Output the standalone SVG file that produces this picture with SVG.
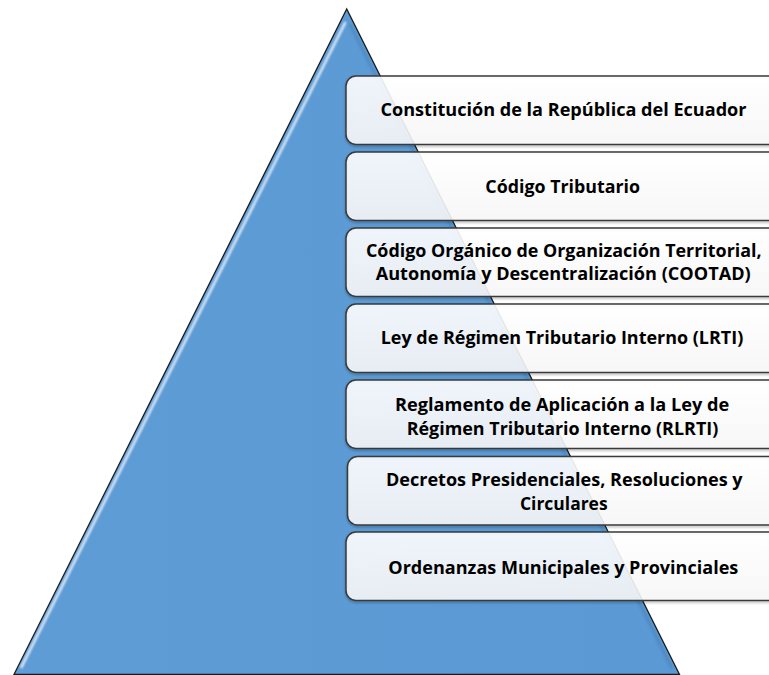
<svg xmlns="http://www.w3.org/2000/svg" width="769" height="675" viewBox="0 0 769 675">
  <defs>
    <linearGradient id="boxFill" x1="0" y1="0" x2="0" y2="1">
      <stop offset="0" stop-color="#ffffff"/>
      <stop offset="1" stop-color="#f6f6f6"/>
    </linearGradient>
    <linearGradient id="triFill" x1="0" y1="0" x2="1" y2="0">
      <stop offset="0" stop-color="#5e9cd6"/>
      <stop offset="1" stop-color="#5a99d3"/>
    </linearGradient>
    <filter id="soft" x="-0.1" y="-0.1" width="1.2" height="1.2">
      <feGaussianBlur stdDeviation="0.8"/>
    </filter>
    <filter id="shadow" x="-0.05" y="-0.1" width="1.1" height="1.3">
      <feGaussianBlur stdDeviation="1"/>
    </filter>
  </defs>
  <style>
    .box { fill: url(#boxFill); fill-opacity: 0.9; stroke: #3a3a3a; stroke-width: 1.5; }
    .boxShadow { fill: none; stroke: #000; stroke-opacity: 0.35; stroke-width: 1.5; filter: url(#shadow); }
    .lbl { font-family: "Open Sans", "Noto Sans", "Liberation Sans", sans-serif; font-weight: bold; font-size: 17.5px; fill: #000; text-anchor: middle; }
  </style>
  <rect x="0" y="0" width="769" height="675" fill="#ffffff"/>

  <g id="pyramid">
    <polygon points="346.7,9 14,674.5 679.5,674.5" fill="url(#triFill)" stroke="#1a1a1a" stroke-width="1.3" stroke-linejoin="miter"/>
    <line x1="345.5" y1="22" x2="21" y2="668" stroke="#ffffff" stroke-width="2.2" stroke-opacity="0.9" filter="url(#soft)"/>
    <line x1="350" y1="24" x2="672" y2="668" stroke="#3d78b0" stroke-width="3" stroke-opacity="0.45" filter="url(#soft)"/>
  </g>

  <g id="node1">
    <rect class="boxShadow" x="346" y="77.5" width="440" height="68.5" rx="10"/>
    <rect class="box" x="346" y="76" width="440" height="68.5" rx="10"/>
    <text class="lbl" x="563.5" y="116" textLength="366" lengthAdjust="spacingAndGlyphs">Constitución de la República del Ecuador</text>
  </g>

  <g id="node2">
    <rect class="boxShadow" x="346" y="153.5" width="440" height="68.5" rx="10"/>
    <rect class="box" x="346" y="152" width="440" height="68.5" rx="10"/>
    <text class="lbl" x="562.7" y="192.5" textLength="154.7" lengthAdjust="spacingAndGlyphs">Código Tributario</text>
  </g>

  <g id="node3">
    <rect class="boxShadow" x="346" y="229.5" width="440" height="68.5" rx="10"/>
    <rect class="box" x="346" y="228" width="440" height="68.5" rx="10"/>
    <text class="lbl" x="563.8" y="256.5" textLength="395.7" lengthAdjust="spacingAndGlyphs">Código Orgánico de Organización Territorial,</text>
    <text class="lbl" x="563.2" y="280.3" textLength="375" lengthAdjust="spacingAndGlyphs">Autonomía y Descentralización (COOTAD)</text>
  </g>

  <g id="node4">
    <rect class="boxShadow" x="346" y="305.5" width="440" height="68.5" rx="10"/>
    <rect class="box" x="346" y="304" width="440" height="68.5" rx="10"/>
    <text class="lbl" x="562" y="344.3" textLength="362.6" lengthAdjust="spacingAndGlyphs">Ley de Régimen Tributario Interno (LRTI)</text>
  </g>

  <g id="node5">
    <rect class="boxShadow" x="346" y="381.5" width="440" height="68.5" rx="10"/>
    <rect class="box" x="346" y="380" width="440" height="68.5" rx="10"/>
    <text class="lbl" x="562.2" y="410.8" textLength="334.3" lengthAdjust="spacingAndGlyphs">Reglamento de Aplicación a la Ley de</text>
    <text class="lbl" x="562.5" y="434.8" textLength="311.6" lengthAdjust="spacingAndGlyphs">Régimen Tributario Interno (RLRTI)</text>
  </g>

  <g id="node6">
    <rect class="boxShadow" x="347.5" y="458" width="440" height="68.5" rx="10"/>
    <rect class="box" x="347.5" y="456.5" width="440" height="68.5" rx="10"/>
    <text class="lbl" x="564.3" y="486" textLength="356.7" lengthAdjust="spacingAndGlyphs">Decretos Presidenciales, Resoluciones y</text>
    <text class="lbl" x="563.8" y="509.5" textLength="87.7" lengthAdjust="spacingAndGlyphs">Circulares</text>
  </g>

  <g id="node7">
    <rect class="boxShadow" x="346" y="533.5" width="440" height="68.5" rx="10"/>
    <rect class="box" x="346" y="532" width="440" height="68.5" rx="10"/>
    <text class="lbl" x="563.3" y="574" textLength="350" lengthAdjust="spacingAndGlyphs">Ordenanzas Municipales y Provinciales</text>
  </g>
</svg>
